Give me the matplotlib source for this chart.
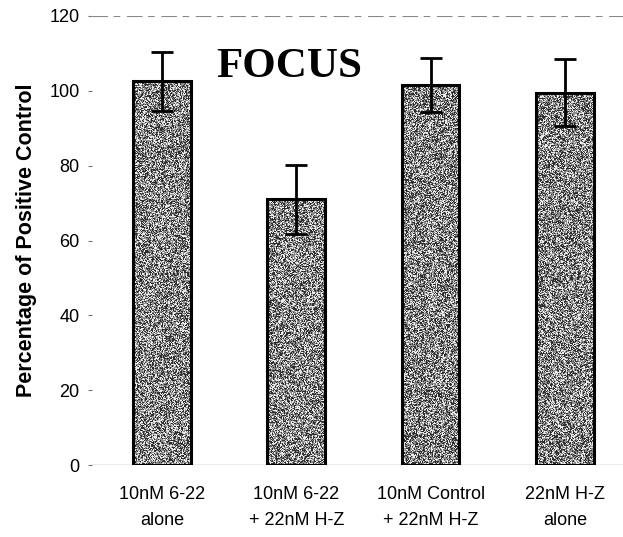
import numpy as np
import matplotlib
matplotlib.use("Agg")
import matplotlib.pyplot as plt

categories = ["10nM 6-22\nalone", "10nM 6-22\n+ 22nM H-Z",
              "10nM Control\n+ 22nM H-Z", "22nM H-Z\nalone"]
values = [102.5, 71.0, 101.5, 99.5]
errors = [7.8, 9.2, 7.2, 9.0]
yticks = [0, 20, 40, 60, 80, 100, 120]

W, H = 623, 537
fig = plt.figure(figsize=(W / 100, H / 100), dpi=100)
fig.patch.set_facecolor("white")

left_px, right_px, top_px, base_px = 92, 623, 16, 465
ax = fig.add_axes([left_px / W, (H - base_px) / H,
                   (right_px - left_px) / W, (base_px - top_px) / H])

x = np.arange(len(categories))
spacing = 134.3
center0 = 162
ax.set_xlim((left_px - center0) / spacing, (right_px - center0) / spacing)
ax.set_ylim(0, 120)

bar_w = 0.43
bars = ax.bar(x, values, width=bar_w, facecolor="none", edgecolor="black",
              linewidth=2.2, zorder=3)

# grainy stipple fill for each bar
rng = np.random.default_rng(7)
for b in bars:
    x0 = b.get_x()
    h = b.get_height()
    rows, cols = int(h * 3.74), 58
    u = rng.random((rows, cols))
    tex = np.where(u < 0.33, 0.18, np.where(u < 0.72, 0.55, 0.92))
    ax.imshow(tex, cmap="gray", vmin=0, vmax=1, extent=(x0, x0 + bar_w, 0, h),
              aspect="auto", interpolation="nearest", zorder=2)

ax.errorbar(x, values, yerr=errors, fmt="none", ecolor="black",
            elinewidth=2, capsize=8, capthick=2, zorder=4)

ax.axhline(120, color="#888888", lw=0.8, ls=(0, (14, 5, 6, 6)), zorder=1)
ax.axhline(0, color="#666666", lw=0.9, zorder=1)

for s in ax.spines.values():
    s.set_visible(False)

ax.set_yticks(yticks)
ax.set_yticklabels([str(t) for t in yticks], fontsize=13,
                   family="Liberation Sans")
ax.tick_params(axis="y", length=3, width=0.8, color="#777777", pad=6)
ax.set_xticks(x)
ax.set_xticklabels(categories, fontsize=13, family="Liberation Sans",
                   linespacing=1.7)
ax.tick_params(axis="x", length=0, pad=15)

ax.set_ylabel("Percentage of Positive Control", fontsize=15.5,
              fontweight="bold", family="Liberation Sans", labelpad=9)

ax.text(0.946, 106.4, "FOCUS", ha="center", va="center", fontsize=31,
        fontweight="bold", family="Liberation Serif", zorder=5)

fig.savefig("out.png", dpi=100)
